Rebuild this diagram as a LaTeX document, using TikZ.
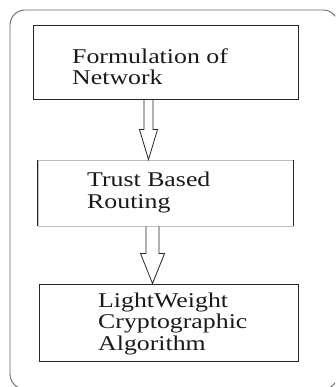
\documentclass[tikz,border=0pt]{standalone}
\usepackage{fontspec}
\setmainfont{Liberation Serif}
\newfontfamily\boxfont[FakeStretch=1.23]{Liberation Serif}
\usetikzlibrary{calc}

\tikzset{
  boxline/.style={draw=black!85, line width=0.9pt},
  stagebox/.style={rectangle, boxline, inner sep=0pt},
  stagetext/.style={inner sep=0pt, align=left, anchor=base west,
    font=\boxfont\fontsize{21}{21.5}\selectfont, text=black!90},
  arrowline/.style={draw=black!85, line width=0.8pt, line join=miter},
  frameline/.style={draw=black!60, line width=0.9pt, rounded corners=15pt},
}

% hollow block arrow: from, to, x offset, half shaft, half head, head length
\newcommand\hollowarrow[6]{%
  \draw[arrowline] let \p1=(#1.south), \p2=(#2.north) in
    ({\x1+(#3pt)-(#4pt)},\y1) -- ({\x1+(#3pt)-(#4pt)},{\y2+(#6pt)})
    -- ({\x1+(#3pt)-(#5pt)},{\y2+(#6pt)}) -- ({\x1+(#3pt)},\y2)
    -- ({\x1+(#3pt)+(#5pt)},{\y2+(#6pt)}) -- ({\x1+(#3pt)+(#4pt)},{\y2+(#6pt)})
    -- ({\x1+(#3pt)+(#4pt)},\y1);}

\begin{document}
\begin{tikzpicture}[x=1pt, y=-1pt]
  \useasboundingbox (0,0) rectangle (335,387);
  \clip (0,0) rectangle (335,387);

  % outer frame
  \draw[frameline] (10,10) rectangle (338,389);

  % stage boxes
  \node[stagebox, minimum width=265pt, minimum height=74pt] (box1) at (165.5,62) {};
  \node[stagebox, draw=black!25, minimum width=255pt, minimum height=66pt] (box2) at (165.5,193) {};
  \draw[boxline] (box2.north west) -- (box2.south west);
  \draw[boxline] (box2.north east) -- (box2.south east);
  \node[stagebox, minimum width=259pt, minimum height=77pt] (box3) at (168.5,322.5) {};

  % stage labels (anchored at the baseline of the last line)
  \node[stagetext] (t1) at (72,85) {Formulation of\\Network};
  \node[stagetext] (t2) at (87,208) {Trust Based\\Routing};
  \node[stagetext] (t3) at (98,350) {LightWeight\\Cryptographic\\Algorithm};

  % connecting arrows
  \hollowarrow{box1}{box2}{-17}{4.5}{9}{30}
  \hollowarrow{box2}{box3}{-13}{6.5}{12}{30}
\end{tikzpicture}
\end{document}
